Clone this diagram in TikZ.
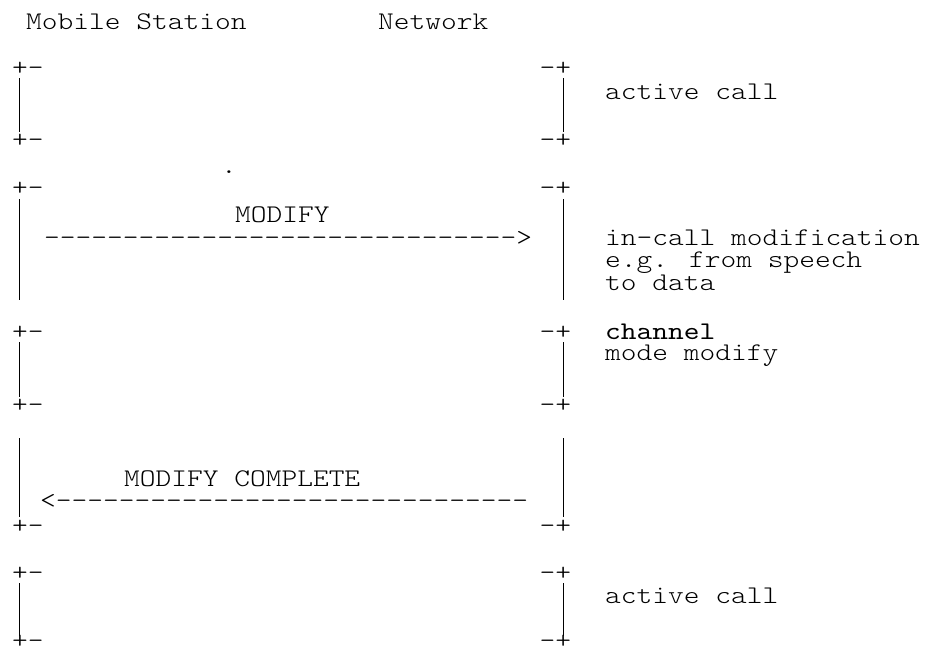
\documentclass[tikz,border=0pt]{standalone}
\usepackage{fontspec}
\newfontfamily\lightmono[FakeStretch=1.18]{lmmonolt10-regular.otf}
\newfontfamily\regmono[FakeStretch=1.18]{lmmono10-regular.otf}
\tikzset{
  txt/.style={font=\lightmono\fontsize{25.4pt}{30pt}\selectfont, inner sep=0pt, anchor=base west, text=black},
  txtreg/.style={font=\regmono\fontsize{25.4pt}{30pt}\selectfont, inner sep=0pt, anchor=base west, text=black},
  vline/.style={line width=1.2pt, draw=black}
}
\begin{document}
\begin{tikzpicture}[x=1pt,y=-1pt]
\useasboundingbox (0,0) rectangle (926,653);
% headers
\node[txt] (ms) at (26,29.5) {Mobile Station};
\node[txt] (nw) at (378,29.5) {Network};
% left corners
\node[txt] (l1t) at (12,75.5) {+-};
\node[txt] (l1b) at (12,147.5) {+-};
\node[txt] (l2t) at (12,195.5) {+-};
\node[txt] (l3t) at (12,339.5) {+-};
\node[txt] (l3b) at (12,412.5) {+-};
\node[txt] (l4b) at (12,533.5) {+-};
\node[txt] (l5t) at (12,580.5) {+-};
\node[txt] (l5b) at (12,648) {+-};
% right corners
\node[txt] (r1t) at (539.5,75.5) {-+};
\node[txt] (r1b) at (539.5,147.5) {-+};
\node[txt] (r2t) at (539.5,195.5) {-+};
\node[txt] (r3t) at (539.5,339.5) {-+};
\node[txt] (r3b) at (539.5,412.5) {-+};
\node[txt] (r4b) at (539.5,533.5) {-+};
\node[txt] (r5t) at (539.5,580.5) {-+};
\node[txt] (r5b) at (539.5,648) {-+};
% vertical line end points
\coordinate (a1) at (19.5,78);  \coordinate (a2) at (19.5,132);
\coordinate (b1) at (19.5,199); \coordinate (b2) at (19.5,300);
\coordinate (c1) at (19.5,342); \coordinate (c2) at (19.5,397);
\coordinate (d1) at (19.5,438); \coordinate (d2) at (19.5,517);
\coordinate (e1) at (19.5,583); \coordinate (e2) at (19.5,636);
\coordinate (f1) at (563.5,78);  \coordinate (f2) at (563.5,132);
\coordinate (g1) at (563.5,199); \coordinate (g2) at (563.5,300);
\coordinate (h1) at (563.5,342); \coordinate (h2) at (563.5,397);
\coordinate (i1) at (563.5,438); \coordinate (i2) at (563.5,517);
\coordinate (j1) at (563.5,583); \coordinate (j2) at (563.5,636);
\draw[vline] (a1) -- (a2);
\draw[vline] (b1) -- (b2);
\draw[vline] (c1) -- (c2);
\draw[vline] (d1) -- (d2);
\draw[vline] (e1) -- (e2);
\draw[vline] (f1) -- (f2);
\draw[vline] (g1) -- (g2);
\draw[vline] (h1) -- (h2);
\draw[vline] (i1) -- (i2);
\draw[vline] (j1) -- (j2);
% texts
\node[txt] (ac1) at (605,99) {active call};
\node[txt] (dot) at (221,173) {.};
\node[txt] (mod) at (235,222) {MODIFY};
\node[txt] (arr1) at (44,245) {------------------------------>};
\node[txt] (ic1) at (605,245) {in-call modification};
\node[txt] (ic2) at (605,267.5) {e.g. from speech};
\node[txt] (ic3) at (605,290) {to data};
\node[txtreg] (ch1) at (605,339) {channel};
\node[txt] (ch2) at (605,360) {mode modify};
\node[txt] (modc) at (124,486) {MODIFY COMPLETE};
\node[txt] (arr2) at (40,508) {<------------------------------};
\node[txt] (ac2) at (605,603) {active call};
\end{tikzpicture}
\end{document}
